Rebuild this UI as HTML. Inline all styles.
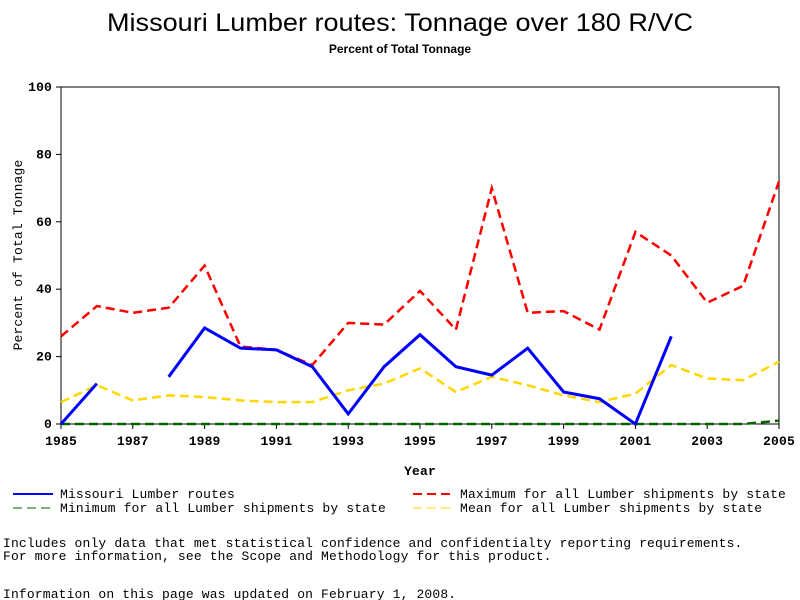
<!DOCTYPE html>
<html><head><meta charset="utf-8"><style>
body{margin:0;background:#fff;width:800px;height:600px;overflow:hidden}
svg{display:block}
.m{font-family:"Liberation Mono",monospace;font-size:13px;fill:#000;letter-spacing:0.15px}
.t{font-family:"Liberation Sans",sans-serif;fill:#000}
</style></head><body>
<svg id="c" width="800" height="600">
<text class="t" x="400" y="31" font-size="25" text-anchor="middle" textLength="586" lengthAdjust="spacingAndGlyphs">Missouri Lumber routes: Tonnage over 180 R/VC</text>
<text class="t" x="400" y="53" font-size="12" font-weight="bold" text-anchor="middle">Percent of Total Tonnage</text>
<rect x="61" y="87" width="718" height="337" fill="none" stroke="#000"/>
<g id="ax"></g><g id="series"></g>
<text class="m" x="420" y="475" text-anchor="middle" font-weight="bold">Year</text>
<text class="m" transform="translate(22,255) rotate(-90)" text-anchor="middle" font-size="12">Percent of Total Tonnage</text>
<g>
<line x1="13" y1="494" x2="53" y2="494" stroke="#0000ff" stroke-width="2"/>
<text class="m" x="60" y="498">Missouri Lumber routes</text>
<line x1="413" y1="494" x2="453" y2="494" stroke="#ff0000" stroke-width="2" stroke-dasharray="9,5"/>
<text class="m" x="460" y="498">Maximum for all Lumber shipments by state</text>
<line x1="13" y1="508" x2="53" y2="508" stroke="#006400" stroke-width="1" stroke-dasharray="9,5"/>
<text class="m" x="60" y="512">Minimum for all Lumber shipments by state</text>
<line x1="413" y1="508" x2="453" y2="508" stroke="#ffd700" stroke-width="1" stroke-dasharray="9,5"/>
<text class="m" x="460" y="512">Mean for all Lumber shipments by state</text>
</g>
<text class="m" x="3" y="547">Includes only data that met statistical confidence and confidentialty reporting requirements.</text>
<text class="m" x="3" y="560">For more information, see the Scope and Methodology for this product.</text>
<text class="m" x="3" y="598">Information on this page was updated on February 1, 2008.</text>
</svg>
<script>
const years=[1985,1986,1987,1988,1989,1990,1991,1992,1993,1994,1995,1996,1997,1998,1999,2000,2001,2002,2003,2004,2005];
const missouri=[0,12,null,14,28.5,22.5,22,17,3,17,26.5,17,14.5,22.5,9.5,7.5,0,26,null,null,null];
const maximum=[26,35,33,34.5,47,23,22,17.5,30,29.5,39.5,28,70,33,33.5,28,57,50,36,41,72];
const minimum=[0,0,0,0,0,0,0,0,0,0,0,0,0,0,0,0,0,0,0,0,1];
const mean=[6.5,11.5,7,8.5,8,7,6.5,6.5,10,12,16.5,9.5,14,11.5,8.5,6.5,9,17.5,13.5,13,18.5];
const xTicks=[1985,1987,1989,1991,1993,1995,1997,1999,2001,2003,2005];
const yTicks=[0,20,40,60,80,100];
const NS="http://www.w3.org/2000/svg";
const x=v=>61+(v-1985)*718/20, y=v=>424-v*3.37;
const ax=document.getElementById('ax'), sg=document.getElementById('series');
function mk(tag,at,par){const e=document.createElementNS(NS,tag);for(const k in at)e.setAttribute(k,at[k]);par.appendChild(e);return e;}
xTicks.forEach(t=>{
 const l=mk('line',{x1:x(t),x2:x(t),y1:424,y2:429,stroke:'#000'},ax);
 
 
 const tx=mk('text',{x:x(t),y:445,'text-anchor':'middle',class:'m','font-weight':'bold'},ax);tx.textContent=t;
 
 
});
yTicks.forEach(t=>{
 const l=mk('line',{x1:56,x2:61,y1:y(t),y2:y(t),stroke:'#000'},ax);
 
 
 const tx=mk('text',{x:52,y:y(t)+4,'text-anchor':'end',class:'m','font-weight':'bold'},ax);tx.textContent=t;
 
 
});
function draw(vals,color,w,dash,name){
 let d='',pen=false;
 vals.forEach((v,i)=>{if(v==null){pen=false;return;}d+=(pen?'L':'M')+x(years[i])+','+y(v);pen=true;});
 const p=mk('path',{d:d,fill:'none',stroke:color,'stroke-width':w},sg);
 if(dash)p.setAttribute('stroke-dasharray',dash);
 
 
}
draw(minimum,'#006400',2.5,'9,5','series-minimum');
draw(mean,'#ffd700',2.5,'9,5','series-mean');
draw(maximum,'#ff0000',2.5,'9,5','series-maximum');
draw(missouri,'#0000ff',3,null,'series-missouri');
</script>
</body></html>
